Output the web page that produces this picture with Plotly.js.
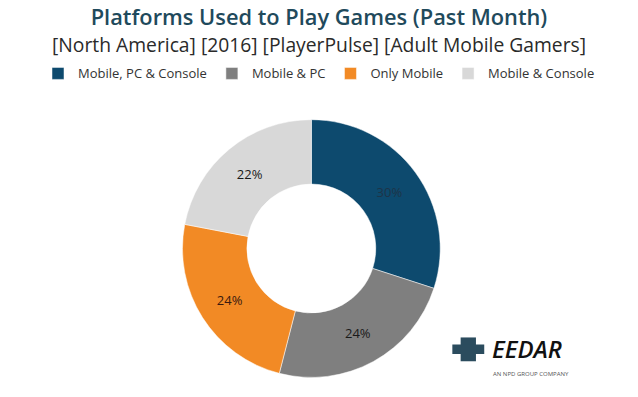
<!DOCTYPE html>
<html>
<head>
<meta charset="utf-8">
<script src="https://cdn.plot.ly/plotly-3.0.1.min.js"></script>
<style>html,body{margin:0;padding:0;background:#fff;}#chart{width:638px;height:397px;}</style>
</head>
<body>
<div id="chart"></div>
<script>
const labels = ["Mobile, PC & Console", "Mobile & PC", "Only Mobile", "Mobile & Console"];
const values = [30, 24, 24, 22];
const textLabels = ["30%", "24%", "24%", "22%"];
const colors = ["#0d4a6e", "#7f7f7f", "#f28a25", "#d8d8d8"];
const textColors = ["#1d3448", "#1a1a1a", "#3a1a10", "#1a1a1a"];

const trace = {
  type: "pie",
  labels: labels,
  values: values,
  text: textLabels,
  textinfo: "text",
  textposition: "inside",
  insidetextorientation: "horizontal",
  hole: 0.5,
  sort: false,
  direction: "clockwise",
  rotation: 0,
  marker: { colors: colors, line: { color: "#ffffff", width: 0.5 } },
  textfont: { family: "Open Sans, sans-serif", size: 13, color: textColors },
  domain: { x: [0.286, 0.69], y: [0.049, 0.699] },
  hoverinfo: "label+percent"
};

const layout = {
  width: 638,
  height: 397,
  margin: { l: 0, r: 0, t: 0, b: 0 },
  paper_bgcolor: "#ffffff",
  font: { family: "Open Sans, sans-serif", color: "#333333" },
  title: {
    text: "Platforms Used to Play Games (Past Month)",
    font: { family: "Open Sans, sans-serif", size: 21.8, weight: 600, color: "#1f4a5c" },
    x: 0.5, xanchor: "center", y: 0.955, yanchor: "middle"
  },
  showlegend: true,
  legend: {
    orientation: "h",
    x: 0.5, xanchor: "center",
    y: 0.815, yanchor: "middle",
    font: { family: "Open Sans, sans-serif", size: 13, color: "#333333" },
    itemwidth: 30,
    tracegroupgap: 0,
    traceorder: "normal"
  },
  annotations: [
    {
      text: "[North America] [2016] [PlayerPulse] [Adult Mobile Gamers]",
      xref: "paper", yref: "paper", x: 0.5, y: 0.889,
      xanchor: "center", yanchor: "middle", showarrow: false,
      font: { family: "Open Sans, sans-serif", size: 19.3, color: "#2a2a2a" }
    },
    {
      text: "<i>EEDAR</i>",
      xref: "paper", yref: "paper", x: 0.768, y: 0.122,
      xanchor: "left", yanchor: "middle", showarrow: false,
      font: { family: "Open Sans, sans-serif", size: 24, weight: 600, color: "#111111" }
    },
    {
      text: "AN NPD GROUP COMPANY",
      xref: "paper", yref: "paper", x: 0.769, y: 0.058,
      xanchor: "left", yanchor: "middle", showarrow: false,
      font: { family: "Open Sans, sans-serif", size: 6, color: "#555555" }
    }
  ],
  shapes: [
    { type: "rect", xref: "paper", yref: "paper", x0: 0.722, x1: 0.746, y0: 0.09, y1: 0.15, fillcolor: "#2b4c5e", line: { width: 0 } },
    { type: "rect", xref: "paper", yref: "paper", x0: 0.709, x1: 0.759, y0: 0.108, y1: 0.132, fillcolor: "#2b4c5e", line: { width: 0 } }
  ]
};

Plotly.newPlot("chart", [trace], layout, { displayModeBar: false, staticPlot: true });
</script>
</body>
</html>
